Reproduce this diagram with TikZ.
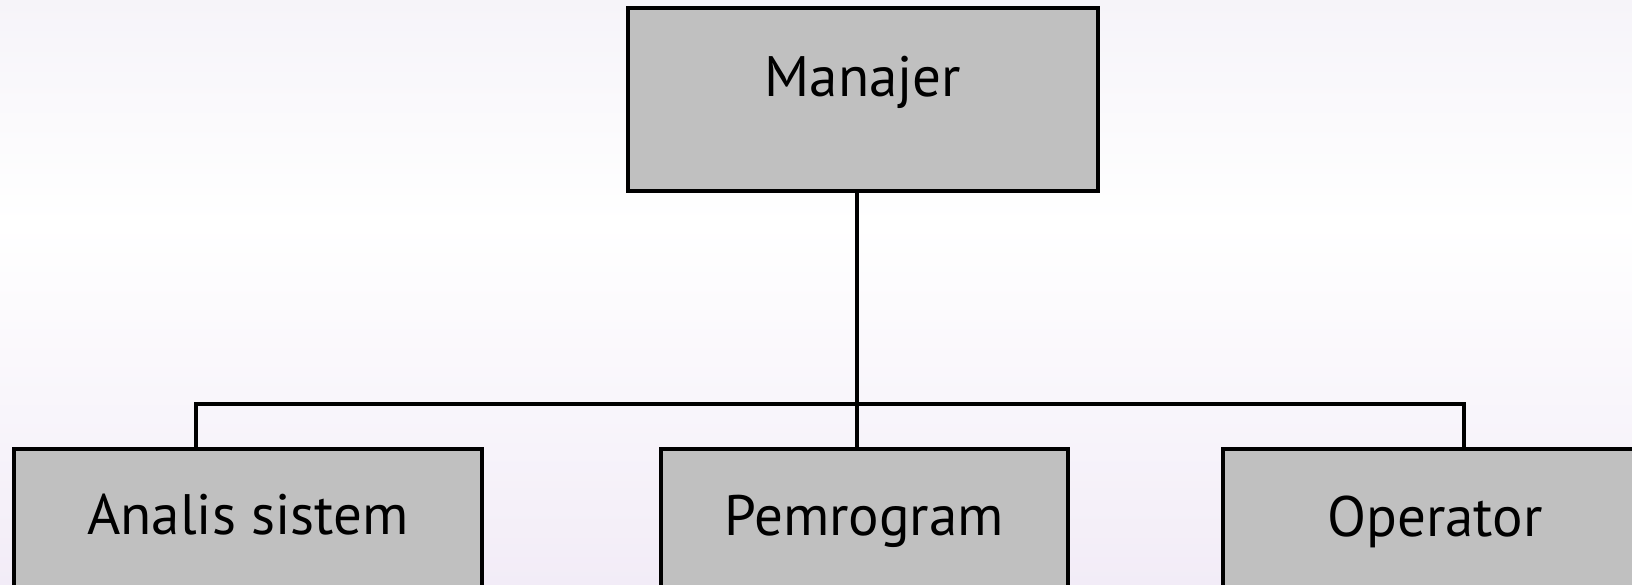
\documentclass[tikz,border=0pt]{standalone}
\usepackage{fontspec}
\setmainfont{PT Sans}
\definecolor{boxgray}{HTML}{C0C0C0}
\definecolor{bgtop}{HTML}{F6F4F9}
\definecolor{bgmid}{HTML}{FFFFFF}
\definecolor{bgbot}{HTML}{F2ECF7}
\begin{document}
\begin{tikzpicture}[x=1pt,y=1pt,
  box/.style={draw=black, fill=boxgray, line width=3.6pt, rectangle, inner sep=0pt},
  lbl/.style={anchor=base, font=\fontsize{57}{60}\selectfont, inner sep=0pt},
  conn/.style={draw=black, line width=3.4pt}]
\shade[top color=bgtop, bottom color=bgmid] (0,360) rectangle (1632,585);
\shade[top color=bgmid, bottom color=bgbot] (0,0) rectangle (1632,360.5);
\useasboundingbox (0,0) rectangle (1632,585);
% boxes
\node[box, minimum width=470, minimum height=183] (man) at (863,485.5) {};
\node[box, minimum width=468, minimum height=166] (ana) at (248,53) {};
\node[box, minimum width=407, minimum height=166] (pem) at (864.5,53) {};
\node[box, minimum width=424, minimum height=166] (ope) at (1435,53) {};
% labels
\node[lbl] (tman) at (863,488) {Manajer};
\node[lbl] (tana) at (248,50) {Analis sistem};
\node[lbl] (tpem) at (864,49) {Pemrogram};
\node[lbl] (tope) at (1435,48) {Operator};
% connectors
\coordinate (hub) at (857,181);
\coordinate (aL) at (196,181);
\coordinate (oR) at (1464,181);
\draw[conn] (man.south -| hub) -- (pem.north -| hub);
\draw[conn] (ana.north -| aL) -- (aL) -- (oR) -- (ope.north -| oR);
\end{tikzpicture}
\end{document}
